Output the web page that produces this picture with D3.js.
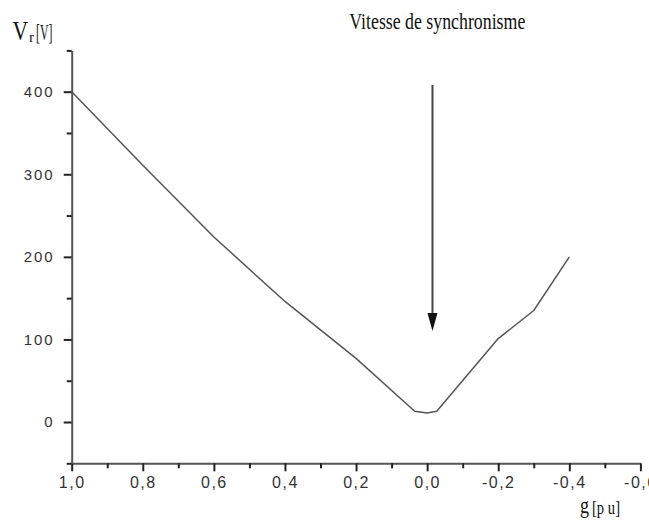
<!DOCTYPE html>
<html><head><meta charset="utf-8">
<script src="https://cdn.jsdelivr.net/npm/d3@7"></script>
<style>
body{margin:0;background:#fff;}
svg{display:block;}
.tick text{font-family:"Liberation Sans Narrow","Liberation Sans",Arial,sans-serif;fill:#333;}
</style></head><body>
<script>
// data
const gValues = [1.0, 0.8, 0.6, 0.4, 0.2, 0.035, 0.0, -0.027, -0.2, -0.3, -0.4];
const vrValues = [400, 311, 224, 146, 77, 13, 11, 13, 101, 135, 200];
const xMajorTicks = [1.0, 0.8, 0.6, 0.4, 0.2, 0.0, -0.2, -0.4, -0.6];
const xMinorTicks = [0.9, 0.7, 0.5, 0.3, 0.1, -0.1, -0.3, -0.5];
const yMajorTicks = [0, 100, 200, 300, 400];
const yMinorTicks = [-50, 50, 150, 250, 350, 450];
const titleText = "Vitesse de synchronisme";
const arrowG = -0.015;
const yTitle = ["V", "r", "[V]"];
const xTitle = ["g", "[p u]"];

const W = 649, H = 526;
const svg = d3.select("body").append("svg").attr("width", W).attr("height", H);

const x = d3.scaleLinear().domain([1.0, -0.6]).range([71.7, 640.4]);
const y = d3.scaleLinear().domain([-50, 450]).range([463.3, 50.4]);

const fmt = d => d3.format(".1f")(d).replace(".", ",").replace("−", "-");

const axisColor = "#555";

// x axis
const gx = svg.append("g").attr("transform", `translate(0,${y(-50)})`);
gx.call(d3.axisBottom(x).tickValues(xMajorTicks).tickSize(8).tickSizeOuter(0).tickFormat(fmt).tickPadding(5));
gx.select(".domain").attr("stroke", axisColor).attr("stroke-width", 2);
gx.selectAll(".tick line").attr("stroke", "#222").attr("stroke-width", 2);
gx.selectAll(".tick text").attr("font-size", 16).attr("letter-spacing", 1.5).attr("fill", "#333");
const gxm = svg.append("g").attr("transform", `translate(0,${y(-50)})`);
gxm.call(d3.axisBottom(x).tickValues(xMinorTicks).tickSize(5).tickSizeOuter(0).tickFormat(""));
gxm.select(".domain").remove();
gxm.selectAll(".tick line").attr("stroke", "#222").attr("stroke-width", 2);

// y axis
const gy = svg.append("g").attr("transform", `translate(${x(1.0)},0)`);
gy.call(d3.axisLeft(y).tickValues(yMajorTicks).tickSize(8).tickSizeOuter(0).tickFormat(d3.format("d")).tickPadding(9));
gy.select(".domain").attr("stroke", axisColor).attr("stroke-width", 2);
gy.selectAll(".tick line").attr("stroke", "#222").attr("stroke-width", 2);
gy.selectAll(".tick text").attr("font-size", 15).attr("letter-spacing", 2).attr("fill", "#333");
const gym = svg.append("g").attr("transform", `translate(${x(1.0)},0)`);
gym.call(d3.axisLeft(y).tickValues(yMinorTicks).tickSize(5).tickSizeOuter(0).tickFormat(""));
gym.select(".domain").remove();
gym.selectAll(".tick line").attr("stroke", "#222").attr("stroke-width", 2);

// data line
const data = gValues.map((g, i) => [g, vrValues[i]]);
svg.append("path").datum(data)
  .attr("fill", "none").attr("stroke", "#555").attr("stroke-width", 1.5)
  .attr("stroke-linejoin", "round")
  .attr("d", d3.line().x(d => x(d[0])).y(d => y(d[1])));

// arrow
const ax = x(arrowG);
svg.append("line").attr("x1", ax).attr("x2", ax).attr("y1", 85).attr("y2", 316)
  .attr("stroke", "#444").attr("stroke-width", 2);
svg.append("path").attr("d", `M${ax-5},313 L${ax+5},313 L${ax},331 Z`).attr("fill", "#111");

// title
const serif = "'Liberation Serif','Times New Roman',serif";
svg.append("text").attr("x", 349.3).attr("y", 29.3)
  .attr("font-family", serif).attr("font-size", 23).attr("fill", "#111")
  .attr("textLength", 176).attr("lengthAdjust", "spacingAndGlyphs").text(titleText);

// y title
svg.append("text").attr("x", 12.5).attr("y", 40).attr("font-family", serif).attr("font-size", 27)
  .attr("fill", "#111").attr("textLength", 15.6).attr("lengthAdjust", "spacingAndGlyphs").text(yTitle[0]);
svg.append("text").attr("x", 29).attr("y", 42).attr("font-family", serif).attr("font-size", 14)
  .attr("fill", "#111").attr("textLength", 5).attr("lengthAdjust", "spacingAndGlyphs").text(yTitle[1]);
svg.append("text").attr("x", 36).attr("y", 40).attr("font-family", serif).attr("font-size", 23)
  .attr("fill", "#111").attr("textLength", 16.5).attr("lengthAdjust", "spacingAndGlyphs").text(yTitle[2]);

// x title
svg.append("text").attr("x", 580).attr("y", 513).attr("font-family", serif).attr("font-size", 24)
  .attr("fill", "#111").attr("textLength", 9).attr("lengthAdjust", "spacingAndGlyphs").text(xTitle[0]);
svg.append("text").attr("x", 592).attr("y", 514).attr("font-family", serif).attr("font-size", 19)
  .attr("fill", "#111").attr("textLength", 28).attr("lengthAdjust", "spacingAndGlyphs").text(xTitle[1]);
</script>
</body></html>
